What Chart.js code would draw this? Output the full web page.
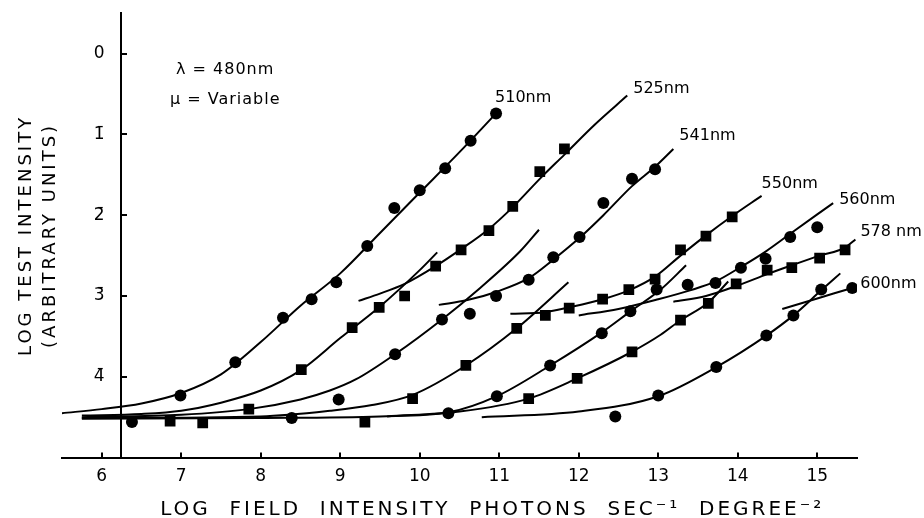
<!DOCTYPE html>
<html>
<head>
<meta charset="utf-8">
<title>Log test intensity vs log field intensity</title>
<script src="https://cdn.jsdelivr.net/npm/chart.js@4.4.1/dist/chart.umd.min.js"></script>
<style>
  html, body { margin: 0; padding: 0; background: #fff; }
</style>
</head>
<body>
<canvas id="chart" width="924" height="518"></canvas>
<script>
/* =========================================================
   Increment thresholds, test 480nm, field wavelength varied
   ========================================================= */

// ── Axis ticks ───────────────────────────────────────
const xTickValues = [6, 7, 8, 9, 10, 11, 12, 13, 14, 15];
const yTickValues = [0, -1, -2, -3, -4];
const yTickLabels = ['0', '1\u0304', '2\u0304', '3\u0304', '4\u0304'];

// ── Labels ───────────────────────────────────────────
const curveLabels = ['510nm', '525nm', '541nm', '550nm', '560nm', '578 nm', '600nm'];
const stimulusText = ['\u03BB = 480nm', '\u03BC = Variable'];

// ── Measured thresholds [log field, log test] ────────
const dots510 = [[6.38,-4.56],[6.99,-4.23],[7.68,-3.82],[8.28,-3.27],[8.64,-3.04],[8.95,-2.83],[9.34,-2.38],[9.68,-1.91],[10.0,-1.69],[10.32,-1.42],[10.64,-1.08],[10.96,-0.74]];
const dots525 = [[6.86,-4.55],[7.27,-4.57],[7.85,-4.40],[8.51,-3.91],[9.15,-3.39],[9.49,-3.14],[9.81,-3.00],[10.20,-2.63],[10.52,-2.43],[10.87,-2.19],[11.17,-1.89],[11.51,-1.46],[11.82,-1.18]];
const dots541 = [[8.39,-4.51],[8.98,-4.28],[9.69,-3.72],[10.28,-3.29],[10.63,-3.22],[10.96,-3.00],[11.37,-2.80],[11.68,-2.52],[12.01,-2.27],[12.31,-1.85],[12.67,-1.55],[12.96,-1.43]];
const dots550 = [[9.91,-4.27],[10.58,-3.86],[11.22,-3.40],[11.58,-3.24],[11.88,-3.15],[12.30,-3.04],[12.63,-2.92],[12.96,-2.79],[13.28,-2.43],[13.60,-2.26],[13.93,-2.02]];
const dots560 = [[10.36,-4.45],[10.97,-4.24],[11.64,-3.86],[12.29,-3.46],[12.65,-3.19],[12.98,-2.92],[13.37,-2.86],[13.72,-2.84],[14.04,-2.65],[14.35,-2.54],[14.66,-2.27],[15.0,-2.15]];
const dots578 = [[9.31,-4.56],[11.37,-4.27],[11.98,-4.02],[12.67,-3.69],[13.28,-3.30],[13.63,-3.09],[13.98,-2.85],[14.37,-2.68],[14.68,-2.65],[15.03,-2.53],[15.35,-2.43]];
const dots600 = [[12.46,-4.49],[13.0,-4.23],[13.73,-3.88],[14.36,-3.49],[14.70,-3.24],[15.05,-2.92],[15.44,-2.90]];

// ── Fitted template curves: lower branch ─────────────
const low510 = [[5.5,-4.45],[6.0,-4.40],[6.5,-4.33],[7.0,-4.20],[7.5,-3.97],[8.0,-3.57],[8.5,-3.12],[9.0,-2.72],[9.5,-2.22],[10.0,-1.72],[10.5,-1.22],[10.96,-0.74]];
const low525 = [[5.75,-4.48],[6.5,-4.46],[7.0,-4.42],[7.5,-4.32],[8.0,-4.17],[8.5,-3.92],[9.0,-3.52],[9.5,-3.13],[10.0,-2.68],[10.22,-2.46]];
const low541 = [[5.75,-4.50],[7.0,-4.47],[7.85,-4.40],[8.5,-4.28],[8.87,-4.17],[9.2,-4.03],[9.69,-3.72],[10.28,-3.29],[10.76,-2.90],[11.26,-2.45],[11.5,-2.18]];
const low550 = [[5.75,-4.51],[8.0,-4.49],[8.87,-4.42],[9.4,-4.35],[9.92,-4.22],[10.58,-3.86],[11.22,-3.40],[11.87,-2.83]];
const low560 = [[5.75,-4.52],[8.0,-4.51],[9.5,-4.49],[10.36,-4.44],[10.97,-4.24],[11.64,-3.86],[12.29,-3.45],[12.65,-3.19],[13.03,-2.92],[13.35,-2.62]];
const low578 = [[9.59,-4.49],[10.5,-4.43],[11.37,-4.27],[11.98,-4.02],[12.67,-3.69],[13.03,-3.48],[13.28,-3.30],[13.63,-3.08],[13.88,-2.82]];
const low600 = [[10.78,-4.50],[12.0,-4.43],[13.0,-4.24],[13.73,-3.88],[14.36,-3.49],[14.70,-3.24],[15.05,-2.93],[15.29,-2.72]];

// ── Fitted template curves: upper branch ─────────────
const up525 = [[9.23,-3.06],[9.5,-2.97],[9.81,-2.85],[10.2,-2.63],[10.52,-2.42],[10.87,-2.17],[11.17,-1.90],[11.51,-1.55],[11.82,-1.25],[12.2,-0.88],[12.61,-0.52]];
const up541 = [[10.24,-3.11],[10.6,-3.05],[10.96,-2.95],[11.37,-2.78],[11.68,-2.55],[12.01,-2.28],[12.31,-2.0],[12.67,-1.64],[12.96,-1.40],[13.19,-1.18]];
const up550 = [[11.14,-3.22],[11.58,-3.20],[11.88,-3.14],[12.30,-3.04],[12.63,-2.93],[12.96,-2.76],[13.28,-2.50],[13.60,-2.25],[13.93,-2.01],[14.30,-1.76]];
const up560 = [[12.0,-3.24],[12.5,-3.16],[13.0,-3.04],[13.4,-2.93],[13.72,-2.82],[14.04,-2.64],[14.35,-2.45],[14.66,-2.23],[15.0,-1.99],[15.2,-1.85]];
const up578 = [[13.19,-3.07],[13.6,-3.0],[14.0,-2.87],[14.37,-2.73],[14.68,-2.62],[15.03,-2.50],[15.35,-2.40],[15.48,-2.30]];
const up600 = [[14.56,-3.16],[15.0,-3.03],[15.44,-2.90]];

const dotSets   = [dots510, dots525, dots541, dots550, dots560, dots578, dots600];
const fitSets   = [low510, low525, low541, low550, low560, low578, low600, up525, up541, up550, up560, up578, up600];
const labelEnds = [low510, up525, up541, up550, up560, up578, up600];

const FONT = "'DejaVu Sans', sans-serif";
Chart.defaults.font.family = FONT;
Chart.defaults.color = '#000';

const toXY = arr => arr.map(([x, y]) => ({ x, y }));

const datasets = [
  ...fitSets.map(f => ({
    data: toXY(f), xAxisID: 'x', yAxisID: 'y',
    showLine: true, pointRadius: 0, borderColor: '#000', borderWidth: 2,
    cubicInterpolationMode: 'monotone', fill: false,
  })),
  ...dotSets.map((d, i) => ({
    data: toXY(d), xAxisID: 'x', yAxisID: 'y',
    showLine: false,
    pointStyle: i % 2 ? 'rect' : 'circle',
    pointRadius: i % 2 ? 7.6 : 6,
    backgroundColor: '#000', borderColor: '#000', borderWidth: 0,
  })),
];

// wider tracking for the two axis titles only (ticks are drawn after datasets)
const titleSpacing = {
  id: 'titleSpacing',
  beforeDraw(chart) { chart.ctx.letterSpacing = '3px'; },
  beforeDatasetsDraw(chart) { chart.ctx.letterSpacing = '0px'; },
};

// curve names at the end of each template + stimulus note
const curveText = {
  id: 'curveText',
  afterDatasetsDraw(chart) {
    const { ctx, chartArea, scales: { x, y } } = chart;
    const offsets = [[-1,-16],[6,-7],[6,-13],[0,-12],[6,-3],[5,-8],[8,-4]];
    ctx.save();
    ctx.fillStyle = '#000';
    ctx.font = '16px ' + FONT;
    ctx.textAlign = 'left';
    ctx.textBaseline = 'middle';
    labelEnds.forEach((pts, i) => {
      const [vx, vy] = pts[pts.length - 1];
      ctx.fillText(curveLabels[i], x.getPixelForValue(vx) + offsets[i][0], y.getPixelForValue(vy) + offsets[i][1]);
    });
    ctx.letterSpacing = '1px';
    ctx.fillText(stimulusText[0], chartArea.left + 114, chartArea.top + 57);
    ctx.fillText(stimulusText[1], chartArea.left + 108, chartArea.top + 87);
    ctx.restore();
  },
};

new Chart(document.getElementById('chart'), {
  type: 'scatter',
  data: { datasets },
  options: {
    responsive: false,
    animation: false,
    layout: { padding: { left: 0, top: 13, right: 67, bottom: 0 } },
    plugins: { legend: { display: false }, tooltip: { enabled: false } },
    scales: {
      x: {
        type: 'linear', min: 5.5, max: 15.5,
        afterBuildTicks: s => { s.ticks = xTickValues.map(v => ({ value: v })); },
        border: { display: true, color: '#000', width: 2 },
        grid: { drawOnChartArea: false, drawTicks: true, tickLength: -5, color: '#000', lineWidth: 2 },
        ticks: { color: '#000', font: { size: 17 }, padding: 14, maxRotation: 0, autoSkip: false, z: 1 },
        title: {
          display: true,
          text: '       LOG  FIELD  INTENSITY  PHOTONS  SEC\u207B\u00B9  DEGREE\u207B\u00B2',
          color: '#000', font: { size: 20, lineHeight: 0.85 }, padding: { top: 0, bottom: 0 },
        },
      },
      y: {
        type: 'linear', axis: 'y', min: -5, max: 0.5, position: { x: 6.24 },
        afterBuildTicks: s => { s.ticks = yTickValues.map(v => ({ value: v })); },
        border: { display: true, color: '#000', width: 2 },
        grid: { drawOnChartArea: false, drawTicks: true, tickLength: -7, color: '#000', lineWidth: 2 },
        ticks: {
          color: '#000', font: { size: 17 }, autoSkip: false, z: 1,
          callback: v => yTickLabels[yTickValues.indexOf(v)] + '   ',
        },
      },
      yTitle: {
        type: 'linear', axis: 'y', position: 'left', min: -5, max: 0.5,
        ticks: { display: false },
        grid: { display: false, drawTicks: false },
        border: { display: false },
        title: {
          display: true,
          text: ['LOG TEST INTENSITY', '(ARBITRARY UNITS)'],
          color: '#000', font: { size: 18, lineHeight: 1.333 }, padding: { top: 14, bottom: 0 },
        },
      },
    },
  },
  plugins: [titleSpacing, curveText],
});
</script>
</body>
</html>
